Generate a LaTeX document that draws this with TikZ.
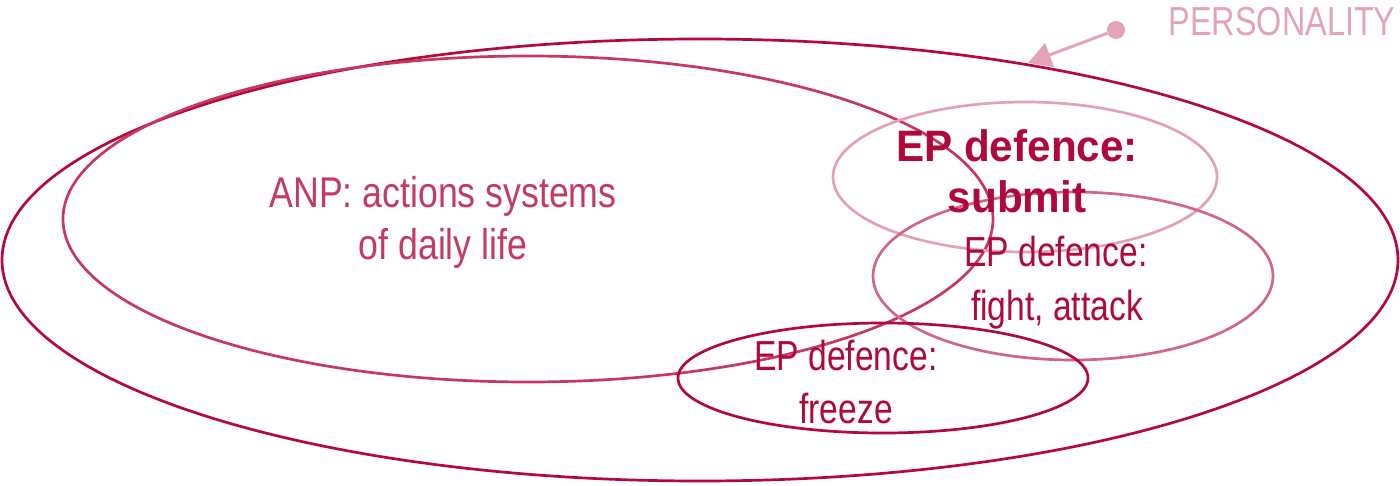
\documentclass[tikz,border=0pt]{standalone}
\usepackage{fontspec}
\setmainfont{Liberation Sans}
\newfontfamily\condfont{Liberation Sans}[FakeStretch=0.8]
\newfontfamily\anpfont{Liberation Sans}[FakeStretch=0.83]
\newfontfamily\bfwide{Liberation Sans Bold}[FakeStretch=0.96]
\usetikzlibrary{arrows.meta}
\definecolor{outerc}{HTML}{B5083C}
\definecolor{anpc}{HTML}{C6385F}
\definecolor{anptext}{HTML}{C43A62}
\definecolor{submitc}{HTML}{E3A2B4}
\definecolor{fightc}{HTML}{D06787}
\definecolor{freezec}{HTML}{B2093C}
\definecolor{eptext}{HTML}{B0083A}
\definecolor{persc}{HTML}{E4A4B7}
\begin{document}
\begin{tikzpicture}[x=1pt,y=-1pt,
  ring/.style={line width=2.7pt},
  lbl/.style={anchor=base,inner sep=0pt,font=\condfont\fontsize{42}{50}\selectfont,text=eptext},
  anpl/.style={anchor=base,inner sep=0pt,font=\anpfont\fontsize{43}{50}\selectfont,text=anptext},
  bigl/.style={anchor=base,inner sep=0pt,font=\bfwide\fontsize{44}{52}\selectfont,text=eptext}]
\useasboundingbox (0,0) rectangle (1400,486);
% ellipses
\draw[ring,outerc] (700,260) ellipse [x radius=698pt, y radius=221pt];
\draw[ring,anpc] (528,219) ellipse [x radius=465pt, y radius=163pt];
\draw[ring,submitc] (1025,177) ellipse [x radius=192pt, y radius=75pt];
\draw[ring,fightc] (1073,276) ellipse [x radius=200pt, y radius=84pt];
\draw[ring,freezec] (883,378) ellipse [x radius=205pt, y radius=55pt];
% texts
\node[anpl] (anp1) at (443,208) {ANP: actions systems};
\node[anpl] (anp2) at (443,260) {of daily life};
\node[bigl] (sub1) at (1017,162) {EP defence:};
\node[bigl] (sub2) at (1017,213) {submit};
\node[lbl] (fig1) at (1056,267) {EP defence:};
\node[lbl] (fig2) at (1057,320) {fight, attack};
\node[lbl] (frz1) at (846,370) {EP defence:};
\node[lbl] (frz2) at (846,423) {freeze};
\node[lbl,text=persc,font=\condfont\fontsize{40.5}{48}\selectfont] (pers) at (1282,36) {PERSONALITY};
% pointer
\node[circle,fill=persc,inner sep=0pt,minimum size=18pt] (dot) at (1116,30) {};
\coordinate (tip) at (1028,63);
\draw[persc,line width=3pt,-{Triangle[length=23pt,width=25pt]}] (dot) -- (tip);
\end{tikzpicture}
\end{document}
